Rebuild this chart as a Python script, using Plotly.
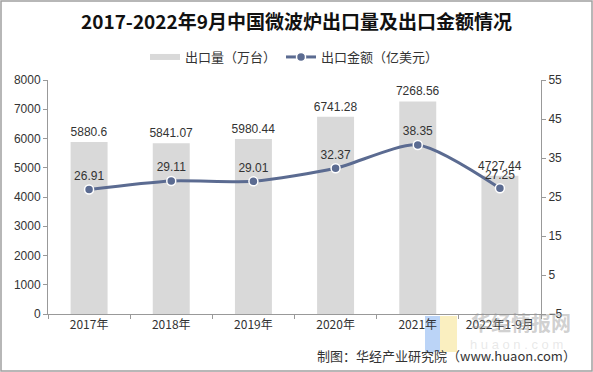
import plotly.graph_objects as go

categories = ["2017年", "2018年", "2019年", "2020年", "2021年", "2022年1-9月"]
export_volume = [5880.6, 5841.07, 5980.44, 6741.28, 7268.56, 4727.44]
export_value = [26.91, 29.11, 29.01, 32.37, 38.35, 27.25]
left_ticks = [0, 1000, 2000, 3000, 4000, 5000, 6000, 7000, 8000]
right_ticks = [-5, 5, 15, 25, 35, 45, 55]

num_font = "Liberation Sans, Arial, sans-serif"
cjk_font = "Noto Sans CJK SC, sans-serif"

L, R, T, B = 48, 52, 80, 58
W, H = 593, 372
PW, PH = W - L - R, H - T - B


def px(x):
    return (x - L) / PW


def py(y):
    return (H - B - y) / PH


fig = go.Figure()
fig.add_trace(go.Bar(
    x=categories, y=export_volume, name="出口量（万台）", showlegend=False,
    marker=dict(color="#d9d9d9", line=dict(width=0)),
    width=0.45,
    text=[f"{v:g}" for v in export_volume], textposition="outside",
    constraintext="none",
    textfont=dict(family=num_font, size=12, color="#333333"),
    cliponaxis=False,
))
# legend proxy for the bars (Excel-style wide swatch)
fig.add_trace(go.Scatter(
    x=[None], y=[None], name="出口量（万台）", mode="lines",
    line=dict(color="#d9d9d9", width=6), showlegend=True,
))
fig.add_trace(go.Scatter(
    x=categories, y=export_value, name="出口金额（亿美元）", yaxis="y2",
    mode="lines+markers+text",
    line=dict(color="#5b6b91", width=3, shape="spline", smoothing=0.7),
    marker=dict(color="#5b6b91", size=9, line=dict(color="white", width=1.5)),
    text=[f"{v:.2f}" for v in export_value], textposition="top center",
    textfont=dict(family=num_font, size=12, color="#333333"),
    cliponaxis=False,
))

fig.update_layout(
    width=W, height=H,
    margin=dict(l=L, r=R, t=T, b=B, autoexpand=False),
    paper_bgcolor="white", plot_bgcolor="white",
    title=dict(text="<b>2017-2022年9月中国微波炉出口量及出口金额情况</b>",
               x=0.5, xanchor="center", y=1 - 22 / H, yanchor="middle",
               font=dict(family=cjk_font, size=19, color="#111111")),
    legend=dict(orientation="h", x=0.5, xanchor="center", y=py(57), yanchor="middle",
                font=dict(family=cjk_font, size=13, color="#333333"),
                itemwidth=30, traceorder="normal"),
    showlegend=True,
    xaxis=dict(showline=True, linecolor="#999999", linewidth=1, automargin=False,
               ticks="outside", tickson="boundaries", ticklen=4, tickcolor="#999999",
               tickfont=dict(family=cjk_font, size=12, color="#333333"),
               showgrid=False),
    yaxis=dict(range=[0, 8000], tickvals=left_ticks, showline=True, linecolor="#999999",
               automargin=False,
               ticks="outside", ticklen=4, tickcolor="#999999", showgrid=False, zeroline=False,
               tickfont=dict(family=num_font, size=12, color="#333333")),
    yaxis2=dict(range=[-5, 55], tickvals=right_ticks, overlaying="y", side="right",
                automargin=False,
                showline=True, linecolor="#999999", ticks="outside", ticklen=4,
                tickcolor="#999999", showgrid=False, zeroline=False,
                tickfont=dict(family=num_font, size=12, color="#333333")),
)

# outer border
fig.add_shape(type="rect", xref="paper", yref="paper",
              x0=px(1), x1=px(592), y0=py(371), y1=py(1),
              line=dict(color="#a0a0a0", width=1.5), layer="below")

# watermark logo blocks
fig.add_shape(type="rect", xref="paper", yref="paper",
              x0=px(425), x1=px(440), y0=py(352), y1=py(316),
              fillcolor="rgba(120,170,240,0.5)", line=dict(width=0), layer="below")
fig.add_shape(type="rect", xref="paper", yref="paper",
              x0=px(440), x1=px(457), y0=py(352), y1=py(316),
              fillcolor="rgba(245,225,140,0.55)", line=dict(width=0), layer="below")

# watermark
fig.add_annotation(xref="paper", yref="paper", x=px(521), y=py(322),
                   text="<b>华经情报网</b>", showarrow=False, xanchor="center", yanchor="middle",
                   font=dict(family=cjk_font, size=20, color="rgba(150,150,150,0.45)"))
fig.add_annotation(xref="paper", yref="paper", x=px(516), y=py(344),
                   text="h u a o n . c o m", showarrow=False, xanchor="center", yanchor="middle",
                   font=dict(family=num_font, size=13, color="rgba(190,190,190,0.35)"))

# source
fig.add_annotation(xref="paper", yref="paper", x=px(578), y=py(355),
                   text="制图：华经产业研究院（www.huaon.com）", showarrow=False,
                   xanchor="right", yanchor="middle",
                   font=dict(family=cjk_font, size=13, color="#333333"))

fig.write_html("out.html", config={"displayModeBar": False},
               post_script="document.body.style.margin='0';")
